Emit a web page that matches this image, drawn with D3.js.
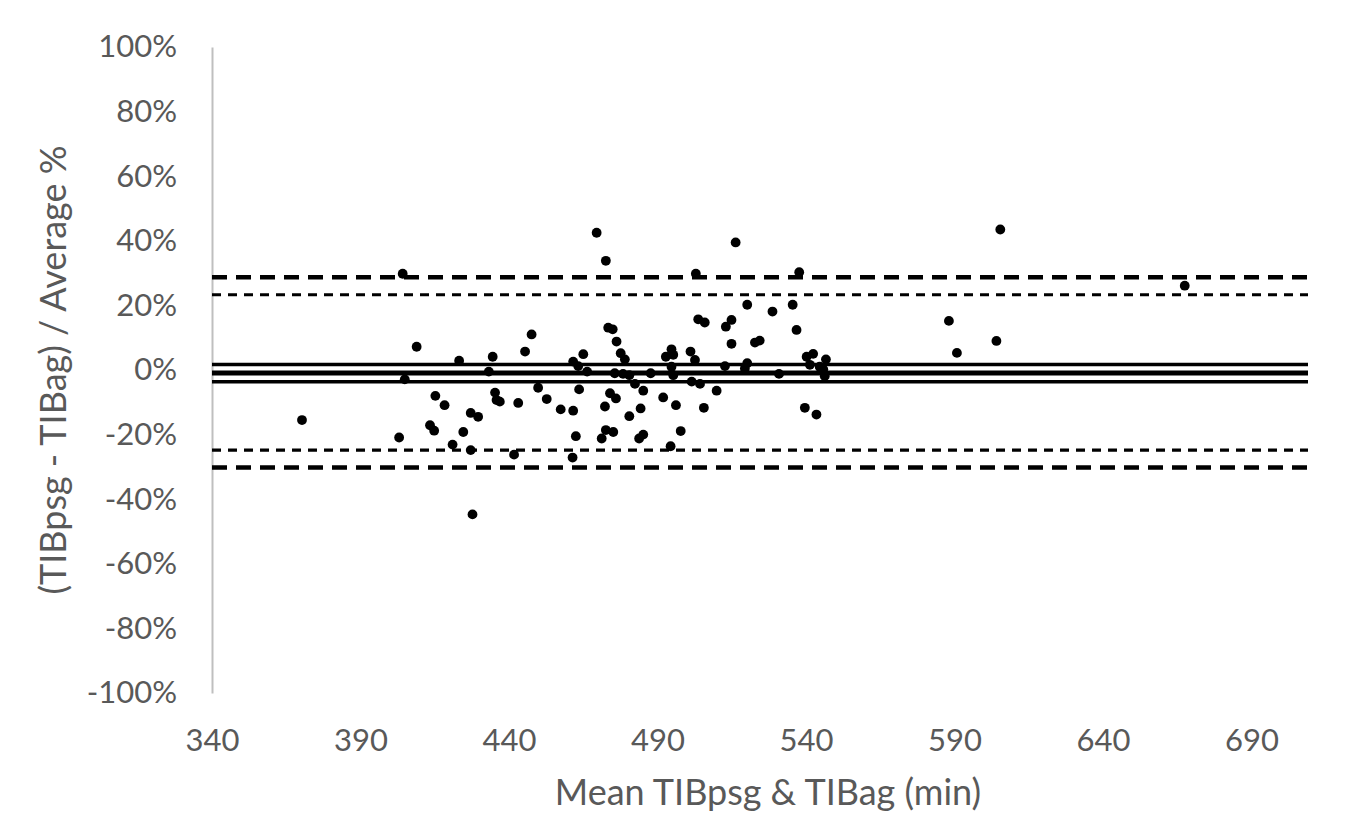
<!DOCTYPE html>
<html>
<head>
<meta charset="utf-8">
<script src="https://cdn.jsdelivr.net/npm/d3@7/dist/d3.min.js"></script>
<style>
  html, body { margin: 0; padding: 0; background: #fff; }
  svg { display: block; }
</style>
</head>
<body>
<svg id="chart" width="1347" height="818"></svg>
<script>
// ---- data ----
const meanValues = [370.3, 403.0, 404.2, 404.9, 408.9, 413.4, 414.8, 415.2, 418.3, 421.0,
  423.2, 424.6, 427.1, 427.1, 427.7, 429.6, 433.2, 434.5, 435.3, 435.8,
  436.9, 441.7, 443.1, 445.4, 447.6, 449.8, 452.7, 457.4, 461.6, 461.6,
  461.4, 462.5, 463.3, 463.6, 465.0, 466.3, 469.5, 471.2, 472.3, 472.6,
  472.6, 473.4, 474.0, 474.9, 475.1, 475.6, 476.2, 476.0, 477.6, 478.4,
  479.0, 480.5, 480.5, 482.4, 483.8, 484.3, 485.2, 485.2, 487.7, 491.9,
  492.8, 494.7, 495.3, 494.7, 495.3, 494.4, 496.2, 497.8, 501.1, 501.5,
  502.6, 502.9, 503.7, 504.3, 505.6, 505.9, 509.9, 512.7, 513.0, 514.9,
  514.9, 516.3, 519.4, 520.2, 520.2, 522.8, 524.4, 528.7, 530.9, 535.5,
  536.8, 537.7, 539.6, 540.2, 541.3, 542.4, 543.5, 544.6, 545.8, 546.3,
  546.7, 588.1, 590.8, 604.1, 605.4, 667.5];
const diffPercent = [-15.5, -20.9, 29.8, -2.9, 7.2, -17.1, -18.8, -8.0, -10.9, -23.1,
  2.9, -19.2, -24.8, -13.3, -44.7, -14.5, -0.5, 4.1, -7.0, -9.3,
  -9.8, -26.2, -10.2, 5.7, 11.0, -5.5, -9.0, -12.2, -12.6, 2.6,
  -27.1, -20.5, 1.2, -6.0, 4.9, -0.5, 42.5, -21.2, -11.3, 33.8,
  -18.6, 13.1, -7.2, 12.6, -19.2, -1.0, 8.8, -8.8, 5.2, -1.2,
  3.3, -1.6, -14.3, -4.3, -21.2, -11.9, -20.0, -6.4, -1.0, -8.5,
  4.1, 6.4, 4.7, 1.0, -1.6, -23.6, -10.9, -18.9, 5.7, -3.6,
  3.1, 29.8, 15.7, -4.3, -11.7, 14.7, -6.4, 1.2, 13.4, 15.5,
  8.1, 39.5, 0.5, 2.1, 20.2, 8.5, 9.1, 18.1, -1.2, 20.2,
  12.4, 30.3, -11.7, 4.1, 1.6, 5.0, -13.8, 1.0, 0.2, -1.9,
  3.3, 15.2, 5.3, 9.0, 43.5, 26.1];

// reference lines: limits of agreement, their CIs, mean bias and its CI
const refLineValues = [28.7, 23.3, 1.7, -0.9, -3.6, -24.8, -30.2];
const refLineKinds  = ["loaOuter", "loaInner", "biasCI", "bias", "biasCI", "loaInner", "loaOuter"];

const xTickValues = [340, 390, 440, 490, 540, 590, 640, 690];
const yTickValues = [-100, -80, -60, -40, -20, 0, 20, 40, 60, 80, 100];
const xAxisTitle = "Mean TIBpsg & TIBag (min)";
const yAxisTitle = "(TIBpsg - TIBag) / Average %";

// ---- drawing ----
const svg = d3.select("#chart");
const FONT = "Lato, 'Open Sans', sans-serif";
const TEXT = "#595959";

const x = d3.scaleLinear().domain([340, 709]).range([212, 1308]);
const y = d3.scaleLinear().domain([-100, 100]).range([693, 47]);

const lineStyle = {
  loaOuter: { w: 4.5, dash: "15,9" },
  loaInner: { w: 3.2, dash: "9,7" },
  bias:     { w: 5,   dash: null },
  biasCI:   { w: 3.5, dash: null }
};

// y axis (vertical line only, no ticks)
const yAxis = d3.axisLeft(y).tickValues(yTickValues).tickSize(0).tickPadding(35)
  .tickFormat(d => d + "%");
const gy = svg.append("g").attr("transform", `translate(${x(340)},0)`).call(yAxis);
gy.select(".domain").attr("stroke", "#bfbfbf").attr("stroke-width", 2);
gy.selectAll("text").attr("fill", TEXT).style("font-family", FONT).style("font-size", "31px");

// x axis labels (no axis line)
const xAxis = d3.axisBottom(x).tickValues(xTickValues).tickSize(0).tickPadding(36)
  .tickFormat(d3.format("d"));
const gx = svg.append("g").attr("transform", `translate(0,${y(-100)})`).call(xAxis);
gx.select(".domain").remove();
gx.selectAll("text").attr("fill", TEXT).style("font-family", FONT).style("font-size", "31px");

// reference lines
svg.append("g").selectAll("line")
  .data(refLineValues.map((v, i) => ({ v, kind: refLineKinds[i] })))
  .join("line")
  .attr("x1", x(340)).attr("x2", x(709))
  .attr("y1", d => y(d.v)).attr("y2", d => y(d.v))
  .attr("stroke", "#000")
  .attr("stroke-width", d => lineStyle[d.kind].w)
  .attr("stroke-dasharray", d => lineStyle[d.kind].dash);

// points
svg.append("g").selectAll("circle")
  .data(meanValues.map((m, i) => ({ m, d: diffPercent[i] })))
  .join("circle")
  .attr("cx", d => x(d.m)).attr("cy", d => y(d.d))
  .attr("r", 4.9).attr("fill", "#000");

// axis titles
svg.append("text")
  .attr("x", 768).attr("y", 805)
  .attr("text-anchor", "middle")
  .attr("fill", TEXT).style("font-family", FONT).style("font-size", "36px")
  .text(xAxisTitle);

svg.append("text")
  .attr("transform", `translate(66,370) rotate(-90)`)
  .attr("text-anchor", "middle")
  .attr("fill", TEXT).style("font-family", FONT).style("font-size", "36px")
  .text(yAxisTitle);
</script>
</body>
</html>
